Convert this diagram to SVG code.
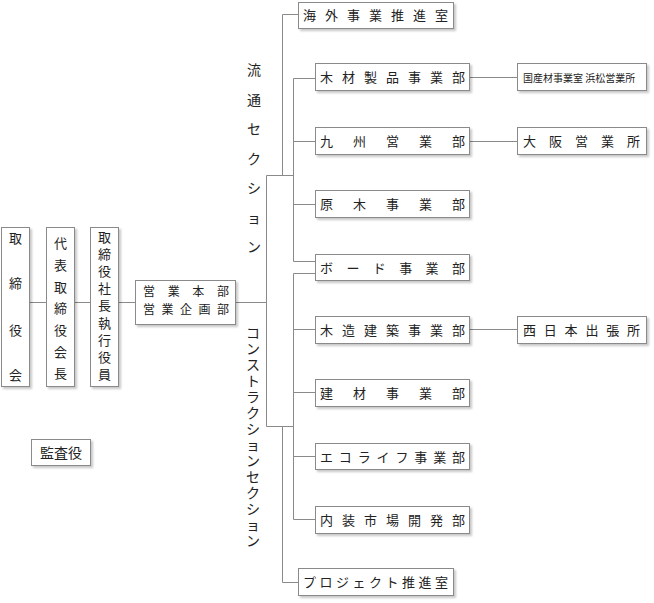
<svg xmlns="http://www.w3.org/2000/svg" width="654" height="603" viewBox="0 0 654 603">
<defs>
<filter id="sh" x="-10%" y="-20%" width="130%" height="160%">
<feDropShadow dx="2" dy="2" stdDeviation="1.2" flood-color="#000" flood-opacity="0.22"/>
</filter>
</defs>
<style>
.b{fill:#fff;stroke:#8a8a8a;stroke-width:1;filter:url(#sh)}
.t{font-family:"Noto Sans CJK JP","Noto Sans CJK SC",sans-serif;font-size:13px;fill:#222}
.v{font-family:"Noto Sans CJK JP","Noto Sans CJK SC",sans-serif;font-size:13px;fill:#222;text-anchor:middle}
.s{font-family:"Noto Sans CJK JP","Noto Sans CJK SC",sans-serif;font-size:14px;fill:#222;text-anchor:middle}
.c{fill:none;stroke:#8a8a8a;stroke-width:1}
</style>
<rect width="654" height="603" fill="#fff"/>
<g id="connectors" class="c">
<path d="M29 302.5H46M74 302.5H90M118 302.5H135M235 302.5H266.5"/>
<path d="M266.5 175.5V426.5M266.5 175.5H293.5M266.5 426.5H293.5"/>
<path d="M282.5 14.5V175.5M282.5 14.5H298"/>
<path d="M282.5 426.5V582.5H298"/>
<path d="M293.5 78.5V261.5M293.5 78.5H315M293.5 141.5H315M293.5 204.5H315M293.5 261.5H315"/>
<path d="M293.5 273.5V519.5M293.5 273.5H315M293.5 329.5H315M293.5 392.5H315M293.5 456.5H315M293.5 519.5H315"/>
<path d="M469 77.5H517M469 141.5H517M469 329.5H517"/>
</g>
<g id="n-torishimariyakukai">
<rect class="b" x="1.5" y="227.5" width="28" height="159"/>
<text class="v" x="15.5 15.5 15.5 15.5" y="243 288 335 380">取締役会</text>
</g>
<g id="n-kaicho">
<rect class="b" x="46.5" y="227.5" width="28" height="159"/>
<text class="v" x="60.5 60.5 60.5 60.5 60.5 60.5 60.5" y="248 270 292 313 335 357 378">代表取締役会長</text>
</g>
<g id="n-shacho">
<rect class="b" x="90.5" y="227.5" width="28" height="159"/>
<text class="v" x="104.5 104.5 104.5 104.5 104.5 104.5 104.5 104.5 104.5" y="242 259 276 293 310 328 345 362 379">取締役社長執行役員</text>
</g>
<g id="n-kansayaku">
<rect class="b" x="31.5" y="439.5" width="59" height="26"/>
<text class="v" x="61" y="457.5" style="font-size:14px">監査役</text>
</g>
<g id="n-eigyohonbu">
<rect class="b" x="135.5" y="280.5" width="100" height="44"/>
<text class="t" x="143" y="296" letter-spacing="12.67" style="font-size:12px">営業本部</text>
<text class="t" x="143" y="314" letter-spacing="6.5" style="font-size:12px">営業企画部</text>
</g>
<g id="labels">
<text class="s" x="254 254 254 254 254 254 254" y="75 104.5 134 163.5 193 222.5 252">流通セクション</text>
<text class="s" x="253 253 253 253 253 253 253 253 253 253 253 253 253 253" y="338 354 370 386 402 418 434 450 466 482 498 514 530 546">コンストラクションセクション</text>
</g>
<g id="n-kaigai">
<rect class="b" x="298.5" y="2.5" width="155" height="26"/>
<text class="t" x="303" y="20" letter-spacing="9">海外事業推進室</text>
</g>
<g id="n-mokuzai">
<rect class="b" x="315.5" y="63.5" width="154" height="27"/>
<text class="t" x="320" y="82" letter-spacing="9">木材製品事業部</text>
</g>
<g id="n-kyushu">
<rect class="b" x="315.5" y="127.5" width="154" height="27"/>
<text class="t" x="320" y="146" letter-spacing="20">九州営業部</text>
</g>
<g id="n-genboku">
<rect class="b" x="315.5" y="190.5" width="154" height="27"/>
<text class="t" x="320" y="209" letter-spacing="20">原木事業部</text>
</g>
<g id="n-board">
<rect class="b" x="315.5" y="254.5" width="154" height="26"/>
<text class="t" x="320" y="272.5" letter-spacing="13.4">ボード事業部</text>
</g>
<g id="n-mokuzo">
<rect class="b" x="315.5" y="316.5" width="154" height="27"/>
<text class="t" x="320" y="335" letter-spacing="9">木造建築事業部</text>
</g>
<g id="n-kenzai">
<rect class="b" x="315.5" y="379.5" width="154" height="27"/>
<text class="t" x="320" y="398" letter-spacing="20">建材事業部</text>
</g>
<g id="n-ecolife">
<rect class="b" x="315.5" y="443.5" width="154" height="26"/>
<text class="t" x="320" y="461.5" letter-spacing="5.86">エコライフ事業部</text>
</g>
<g id="n-naiso">
<rect class="b" x="315.5" y="506.5" width="154" height="27"/>
<text class="t" x="320" y="525" letter-spacing="9">内装市場開発部</text>
</g>
<g id="n-project">
<rect class="b" x="298.5" y="568.5" width="155" height="27"/>
<text class="t" x="303" y="587" letter-spacing="3.5">プロジェクト推進室</text>
</g>
<g id="n-hamamatsu">
<rect class="b" x="517.5" y="63.5" width="129" height="27"/>
<text class="t" x="523" y="81.5" style="font-size:10px">国産材事業室 浜松営業所</text>
</g>
<g id="n-osaka">
<rect class="b" x="517.5" y="127.5" width="129" height="27"/>
<text class="t" x="523" y="146" letter-spacing="13">大阪営業所</text>
</g>
<g id="n-nishinihon">
<rect class="b" x="517.5" y="316.5" width="129" height="27"/>
<text class="t" x="523" y="335" letter-spacing="7.8">西日本出張所</text>
</g>
</svg>
